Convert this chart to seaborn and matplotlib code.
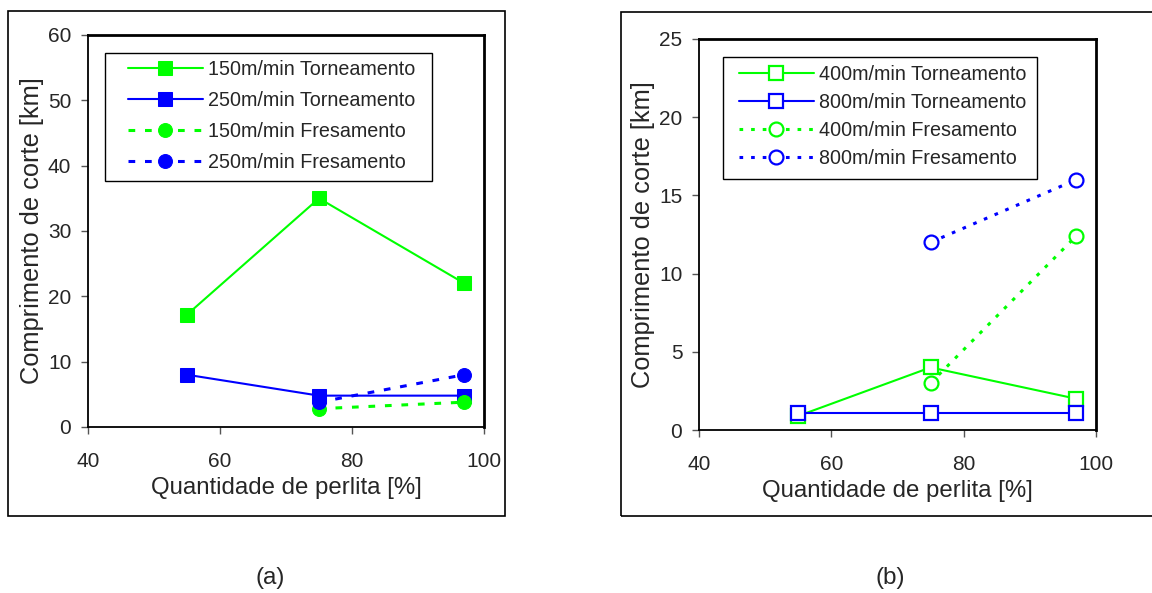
import matplotlib
matplotlib.use("Agg")
import matplotlib.pyplot as plt
import seaborn as sns
from matplotlib.patches import Rectangle

sns.set_theme(style="white")
plt.rcParams['font.family'] = ['Liberation Sans', 'DejaVu Sans']

# ---- data ----
perlita_a = [55, 75, 97]
torn150 = [17.2, 35.0, 22.0]
torn250 = [8.0, 4.8, 4.8]
perlita_fres = [75, 97]
fres150 = [2.8, 3.8]
fres250 = [3.8, 8.0]

perlita_b = [55, 75, 97]
torn400 = [0.9, 4.0, 2.0]
torn800 = [1.1, 1.1, 1.1]
fres400 = [3.0, 12.4]
fres800 = [12.0, 16.0]

labels_a = ["150m/min Torneamento", "250m/min Torneamento",
            "150m/min Fresamento", "250m/min Fresamento"]
labels_b = ["400m/min Torneamento", "800m/min Torneamento",
            "400m/min Fresamento", "800m/min Fresamento"]

GREEN = "#00FF00"
BLUE = "#0000FF"

W, H = 1152, 593
fig = plt.figure(figsize=(W / 100, H / 100), dpi=100)
fig.patch.set_facecolor("white")


def frac(x0, y0, x1, y1):
    return [x0 / W, 1 - y1 / H, (x1 - x0) / W, (y1 - y0) / H]

# outer boxes
fig.patches.append(Rectangle((8 / W, 1 - 516 / H), 497 / W, 505 / H, transform=fig.transFigure,
                             fill=False, edgecolor="black", linewidth=1.2))
fig.patches.append(Rectangle((621 / W, 1 - 516 / H), 560 / W, 504 / H, transform=fig.transFigure,
                             fill=False, edgecolor="black", linewidth=1.2, clip_on=False))

ax1 = fig.add_axes(frac(88, 35, 484, 427))
ax2 = fig.add_axes(frac(699, 39, 1096, 430))

# panel a
sns.lineplot(x=perlita_a, y=torn150, ax=ax1, color=GREEN, marker="s", markersize=10,
             markeredgecolor=GREEN, linewidth=1.5, label=labels_a[0])
sns.lineplot(x=perlita_a, y=torn250, ax=ax1, color=BLUE, marker="s", markersize=10,
             markeredgecolor=BLUE, linewidth=1.5, label=labels_a[1])
sns.lineplot(x=perlita_fres, y=fres150, ax=ax1, color=GREEN, marker="o", markersize=10,
             markeredgecolor=GREEN, linewidth=2.2, linestyle=(0, (2.2, 3.2)), label=labels_a[2])
sns.lineplot(x=perlita_fres, y=fres250, ax=ax1, color=BLUE, marker="o", markersize=10,
             markeredgecolor=BLUE, linewidth=2.2, linestyle=(0, (2.2, 3.2)), label=labels_a[3])

# panel b
sns.lineplot(x=perlita_b, y=torn400, ax=ax2, color=GREEN, marker="s", markersize=9.5,
             markerfacecolor="white", markeredgecolor=GREEN, markeredgewidth=1.6,
             linewidth=1.5, label=labels_b[0])
sns.lineplot(x=perlita_b, y=torn800, ax=ax2, color=BLUE, marker="s", markersize=9.5,
             markerfacecolor="white", markeredgecolor=BLUE, markeredgewidth=1.6,
             linewidth=1.5, label=labels_b[1])
sns.lineplot(x=perlita_fres, y=fres400, ax=ax2, color=GREEN, marker="o", markersize=10,
             markerfacecolor="white", markeredgecolor=GREEN, markeredgewidth=1.6,
             linewidth=2.2, linestyle=(0, (1.2, 2.6)), label=labels_b[2])
sns.lineplot(x=perlita_fres, y=fres800, ax=ax2, color=BLUE, marker="o", markersize=10,
             markerfacecolor="white", markeredgecolor=BLUE, markeredgewidth=1.6,
             linewidth=2.2, linestyle=(0, (1.2, 2.6)), label=labels_b[3])

# (legend frame box px, legend content anchor px, labelspacing)
panels = [
    (ax1, 60, 10, (105, 53, 432, 181), (128, 60), 0.6),
    (ax2, 25, 5, (723, 57, 1037, 179), (739, 65), 0.46),
]
for ax, ymax, ystep, box, anchor, lsp in panels:
    ax.set_xlim(40, 100)
    ax.set_ylim(0, ymax)
    ax.set_xticks(range(40, 101, 20))
    ax.set_yticks(range(0, ymax + 1, ystep))
    ax.tick_params(axis="both", which="both", direction="out", length=5, width=1,
                   color="#555555", labelsize=15, left=True, bottom=True)
    ax.tick_params(axis="x", pad=13)
    ax.tick_params(axis="y", pad=7)
    for s in ax.spines.values():
        s.set_visible(True)
        s.set_color("black")
        s.set_linewidth(1.3)
    ax.spines["top"].set_linewidth(2)
    ax.spines["right"].set_linewidth(2)
    ax.set_facecolor("white")
    ax.set_xlabel("Quantidade de perlita [%]", fontsize=17.3, labelpad=4)
    ax.set_ylabel("Comprimento de corte [km]", fontsize=18.3, labelpad=3)
    bx0, by0, bx1, by1 = box
    ax.add_patch(Rectangle((bx0 / W, 1 - by1 / H), (bx1 - bx0) / W, (by1 - by0) / H,
                           transform=fig.transFigure, facecolor="white", edgecolor="black",
                           linewidth=1.0, zorder=4, clip_on=False))
    x0, y0 = anchor
    ax.legend(loc="upper left", bbox_to_anchor=(x0 / W, 1 - y0 / H),
              bbox_transform=fig.transFigure, fontsize=14.2, frameon=False,
              handlelength=3.8, borderpad=0, labelspacing=lsp, handletextpad=0.28,
              borderaxespad=0)

fig.text(270 / W, 1 - 578 / H, "(a)", ha="center", va="center", fontsize=17.5)
fig.text(890 / W, 1 - 578 / H, "(b)", ha="center", va="center", fontsize=17.5)

fig.savefig("out.png", dpi=100, facecolor="white")
